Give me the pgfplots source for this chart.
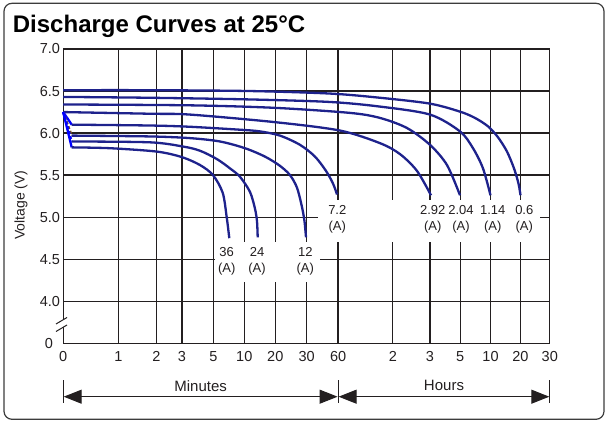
\documentclass[border=0pt]{standalone}
\usepackage{fontspec}
\setmainfont{Liberation Sans}
\usepackage{pgfplots}
\pgfplotsset{compat=1.18}
\usetikzlibrary{arrows.meta}
\definecolor{curvec}{RGB}{30,34,140}
\definecolor{gridc}{RGB}{35,31,32}
\definecolor{framec}{RGB}{60,60,60}
\begin{document}
\begin{tikzpicture}[x=1pt,y=1pt]
\useasboundingbox (0,0) rectangle (608,422);
\draw[framec, line width=1.2pt, rounded corners=8pt] (4,2.7) rectangle (604,418.7);
\node[anchor=base west, font=\fontsize{24}{27}\selectfont\bfseries, inner sep=0] at (12.7,389.7) {Discharge Curves at 25°C};
\node[rotate=90, font=\fontsize{14}{16}\selectfont, text=gridc] at (21,217) {Voltage (V)};
\begin{axis}[
  at={(63.2pt,78.7pt)}, anchor=south west, scale only axis,
  width=486.6pt, height=294.3pt,
  xmin=63.2, xmax=549.8, ymin=3.5, ymax=7,
  xtick={63.2,118.3,156.3,181.9,213.3,244.3,275.3,306.7,338.1,392.8,430.0,460.2,490.5,520.4,549.8},
  xticklabels={0,1,2,3,5,10,20,30,60,2,3,5,10,20,30},
  ytick={3.5,4,4.5,5,5.5,6,6.5,7},
  yticklabels={0\kern7pt,4.0,4.5,5.0,5.5,6.0,6.5,7.0},
  grid=major, major grid style={gridc, line width=1.3pt},
  axis line style={gridc, line width=1.3pt},
  major tick length=0pt,
  tick label style={font=\fontsize{14.5}{16}\selectfont, text=gridc},
  xticklabel style={yshift=-5pt},
  yticklabel style={inner xsep=3pt},
  /pgf/number format/assume math mode=true,
  clip=false,
  every axis plot/.append style={curvec, line width=2.3pt, no markers},
]
% 0.6 A
\addplot[smooth, tension=0.5] coordinates {(63.2,6.51)(150,6.51)(250,6.50)(330,6.47)(380,6.42)(430,6.35)(460,6.255)(475,6.18)(488,6.08)(498,5.95)(507,5.78)(514,5.58)(518.5,5.40)(520.5,5.26)};
% 1.14 A
\addplot[smooth, tension=0.5] coordinates {(63.2,6.43)(150,6.42)(250,6.40)(330,6.37)(380,6.315)(430,6.22)(460,6.02)(473,5.82)(483,5.58)(490.5,5.26)};
% 2.04 A
\addplot[smooth, tension=0.5] coordinates {(63.2,6.34)(190,6.33)(275,6.30)(350,6.24)(380,6.18)(407,6.06)(430,5.86)(447,5.62)(460,5.26)};
% 2.92 A
\addplot[smooth, tension=0.5] coordinates {(63.2,6.25)(150,6.23)(190,6.22)(275,6.13)(340,6.03)(380,5.88)(400,5.75)(417,5.55)(431,5.26)};
% 7.2 A
\addplot coordinates {(63.2,6.25)(71.7,6.10)};
\addplot[smooth, tension=0.5] coordinates {(71.7,6.10)(150,6.09)(190,6.075)(240,6.04)(260,6.02)(280,5.97)(300,5.86)(315,5.72)(326,5.55)(333,5.40)(337,5.27)};
% 12 A
\addplot coordinates {(63.2,6.25)(71.7,5.97)};
\addplot[smooth, tension=0.5] coordinates {(71.7,5.97)(150,5.96)(190,5.94)(220,5.90)(245,5.82)(265,5.72)(280,5.61)(290,5.50)(297,5.35)(302,5.12)(304.5,4.95)(306,4.76)};
% 24 A
\addplot coordinates {(63.2,6.25)(71.7,5.90)};
\addplot[smooth, tension=0.5] coordinates {(71.7,5.90)(150,5.89)(183,5.84)(200,5.79)(217,5.69)(230,5.58)(240,5.48)(250,5.30)(255,5.10)(257,4.95)(257.7,4.76)};
% 36 A
\addplot coordinates {(63.2,6.25)(71.7,5.83)};
\addplot[smooth, tension=0.5] coordinates {(71.7,5.83)(110,5.82)(156.7,5.78)(181.7,5.715)(200,5.62)(213,5.50)(222.7,5.29)(226.7,5.00)(229.3,4.75)};
% label boxes
\fill[white] (axis cs:214.5,4.708) rectangle (axis cs:320,4.233);
\fill[white] (axis cs:318,5.204) rectangle (axis cs:540,4.708);
\begin{scope}[every node/.style={align=center, inner sep=0, font=\fontsize{13}{16}\selectfont, text=gridc}]
\node at (axis cs:226.7,4.475) {36\\(A)};
\node at (axis cs:257,4.475) {24\\(A)};
\node at (axis cs:305.3,4.475) {12\\(A)};
\node at (axis cs:337.3,4.97) {7.2\\(A)};
\node at (axis cs:432.7,4.97) {2.92\\(A)};
\node at (axis cs:461,4.97) {2.04\\(A)};
\node at (axis cs:492.7,4.97) {1.14\\(A)};
\node at (axis cs:524.3,4.97) {0.6\\(A)};
\end{scope}
\end{axis}
% axis break
\fill[white] (56,90.5) -- (67,97) -- (67,104.5) -- (56,98) -- cycle;
\draw[gridc, line width=1pt] (56,90.5) -- (67,97);
\draw[gridc, line width=1pt] (56,98) -- (67,104.5);
% bottom arrows
\draw[gridc, line width=1pt] (63.2,19) -- (63.2,42) (338.1,19) -- (338.1,42) (549.8,19) -- (549.8,42);
\draw[gridc, line width=1pt, {Triangle[length=18pt,width=14pt]}-{Triangle[length=18pt,width=14pt]}] (63.7,25.3) -- (337.6,25.3);
\draw[gridc, line width=1pt, {Triangle[length=18pt,width=14pt]}-{Triangle[length=18pt,width=14pt]}] (338.6,25.3) -- (549.3,25.3);
\node[font=\fontsize{15}{18}\selectfont, text=gridc] at (200.6,36.2) {Minutes};
\node[font=\fontsize{15}{18}\selectfont, text=gridc] at (444,36.2) {Hours};
\end{tikzpicture}
\end{document}
